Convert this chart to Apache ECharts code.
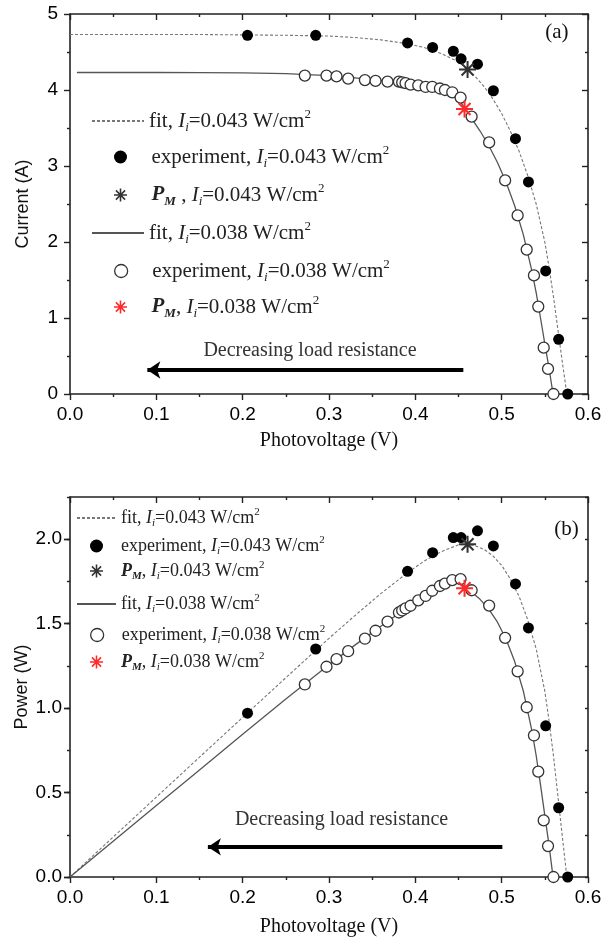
<!DOCTYPE html>
<html><head><meta charset="utf-8">
<script src="https://cdn.jsdelivr.net/npm/echarts@6/dist/echarts.min.js"></script>
<style>html,body{margin:0;padding:0;background:#fff}#c{width:611px;height:945px}</style>
</head><body><div id="c"></div>
<script>
// ---------------- data ----------------
// experiment, Ii = 0.043 W/cm2
const exp043V = [0.2056, 0.2846, 0.391, 0.420, 0.444, 0.453, 0.472, 0.4904, 0.516, 0.531, 0.551, 0.566, 0.5765];
const exp043I = [4.72, 4.72, 4.62, 4.56, 4.51, 4.41, 4.34, 3.99, 3.36, 2.79, 1.62, 0.72, 0.0];
const exp043P = [0.97, 1.35, 1.81, 1.92, 2.01, 2.01, 2.05, 1.96, 1.735, 1.475, 0.895, 0.41, 0.0];
// experiment, Ii = 0.038 W/cm2
const exp038V = [0.272, 0.2971, 0.3087, 0.3222, 0.3416, 0.3539, 0.3678, 0.381, 0.3848, 0.3887, 0.3945, 0.4034, 0.4119, 0.4196, 0.4285, 0.4343, 0.4428, 0.4524, 0.4652, 0.4855, 0.504, 0.5185, 0.529, 0.5374, 0.5424, 0.5487, 0.5537, 0.560];
const exp038I = [4.19, 4.19, 4.18, 4.15, 4.13, 4.12, 4.11, 4.11, 4.10, 4.09, 4.07, 4.06, 4.04, 4.04, 4.02, 4.00, 3.97, 3.90, 3.65, 3.31, 2.81, 2.35, 1.90, 1.56, 1.15, 0.61, 0.33, 0.0];
const exp038P = [1.14, 1.245, 1.29, 1.337, 1.411, 1.458, 1.512, 1.566, 1.578, 1.59, 1.606, 1.638, 1.664, 1.695, 1.723, 1.737, 1.758, 1.764, 1.698, 1.607, 1.416, 1.218, 1.005, 0.838, 0.624, 0.335, 0.183, 0.0];
// maximum power points
const pm043V = [0.4605], pm043I = [4.27], pm043P = [1.97];
const pm038V = [0.457],  pm038I = [3.75], pm038P = [1.71];
// fit curves, Ii = 0.043
const fit043V = [0, 0.05, 0.10, 0.15, 0.20, 0.25, 0.30, 0.33, 0.36, 0.39, 0.41, 0.43, 0.45, 0.46, 0.47, 0.48, 0.49, 0.50, 0.51, 0.52, 0.53, 0.54, 0.55, 0.555, 0.56, 0.565, 0.57, 0.5755];
const fit043I = [4.73, 4.73, 4.73, 4.73, 4.725, 4.72, 4.71, 4.69, 4.66, 4.61, 4.56, 4.48, 4.37, 4.28, 4.17, 4.04, 3.88, 3.69, 3.46, 3.20, 2.88, 2.50, 2.00, 1.66, 1.28, 0.86, 0.44, 0.0];
const fit043P = [0, 0.2365, 0.473, 0.7095, 0.945, 1.18, 1.413, 1.548, 1.678, 1.798, 1.870, 1.926, 1.967, 1.969, 1.960, 1.939, 1.901, 1.845, 1.765, 1.664, 1.526, 1.35, 1.10, 0.921, 0.717, 0.486, 0.251, 0.0];
// fit curves, Ii = 0.038
const fit038V = [0.008, 0.05, 0.10, 0.15, 0.20, 0.25, 0.30, 0.33, 0.36, 0.39, 0.41, 0.43, 0.44, 0.45, 0.4567, 0.465, 0.475, 0.485, 0.495, 0.505, 0.515, 0.525, 0.535, 0.54, 0.545, 0.55, 0.555, 0.5595];
const fit038I = [4.23, 4.23, 4.23, 4.228, 4.225, 4.215, 4.19, 4.16, 4.125, 4.085, 4.05, 4.00, 3.96, 3.88, 3.77, 3.63, 3.46, 3.27, 3.05, 2.79, 2.48, 2.10, 1.62, 1.33, 1.00, 0.66, 0.33, 0.0];
const fitP038V = [0, 0.05, 0.10, 0.15, 0.20, 0.25, 0.30, 0.33, 0.36, 0.39, 0.41, 0.43, 0.44, 0.45, 0.4567, 0.465, 0.475, 0.485, 0.495, 0.505, 0.515, 0.525, 0.535, 0.54, 0.545, 0.55, 0.555, 0.5595];
const fit038P = [0, 0.2115, 0.423, 0.634, 0.845, 1.054, 1.257, 1.373, 1.485, 1.593, 1.661, 1.72, 1.742, 1.746, 1.722, 1.688, 1.644, 1.586, 1.51, 1.409, 1.277, 1.103, 0.867, 0.718, 0.545, 0.363, 0.183, 0.0];
// annotations
const annotationText = 'Decreasing load resistance';
const arrowA = [[0.4556, 0.316], [0.0896, 0.316]];
const textA = [0.278, 0.57];
const arrowB = [[0.5008, 0.178], [0.1597, 0.178]];
const textB = [0.3145, 0.339];
const panelA = [0.564, 4.76], panelB = [0.575, 2.055];
const xLabel = 'Photovoltage (V)', yLabelA = 'Current (A)', yLabelB = 'Power (W)';
const powerLabelValues = [0, 0.5, 1.0, 1.5, 2.0];

// ---------------- styling ----------------
const SERIF = 'Liberation Serif', SANS = 'Liberation Sans';
const AX = '#222';
const STAR = 'path://M-1.2,-10L1.2,-10L1.2,10L-1.2,10Z M-10,-1.2L10,-1.2L10,1.2L-10,1.2Z M-6.2,-7.9L7.9,6.2L6.2,7.9L-7.9,-6.2Z M-7.9,6.2L6.2,-7.9L7.9,-6.2L-6.2,7.9Z';
const zip = (a, b) => a.map((v, i) => [v, b[i]]);

function xAxes(gi, nameGap) {
  const base = {
    type: 'value', gridIndex: gi, min: 0, max: 0.6, interval: 0.1,
    axisLine: { show: true, onZero: false, lineStyle: { color: AX, width: 1.6 } },
    axisTick: { show: true, length: 6, lineStyle: { color: AX, width: 1.4 } },
    minorTick: { show: true, splitNumber: 2, length: 3, lineStyle: { color: AX, width: 1.4 } },
    splitLine: { show: false }, minorSplitLine: { show: false }
  };
  return [
    Object.assign({}, base, {
      position: 'bottom', name: xLabel, nameLocation: 'middle', nameGap: nameGap, nameMoveOverlap: false,
      nameTextStyle: { fontFamily: SERIF, fontSize: 20, color: '#111' },
      axisLabel: { fontFamily: SANS, fontSize: 19, color: '#000', margin: 11, formatter: v => v.toFixed(1) }
    }),
    Object.assign({}, base, {
      position: 'top', axisLabel: { show: false },
      axisTick: { show: true, inside: true, length: 6, lineStyle: { color: AX, width: 1.4 } }
    })
  ];
}

const yA = {
  type: 'value', gridIndex: 0, min: 0, max: 5, interval: 1,
  axisLine: { show: true, onZero: false, lineStyle: { color: AX, width: 1.6 } },
  axisTick: { show: true, length: 6, lineStyle: { color: AX, width: 1.4 } },
  minorTick: { show: true, splitNumber: 2, length: 3, lineStyle: { color: AX, width: 1.4 } },
  splitLine: { show: false }, minorSplitLine: { show: false }
};
const yAxes = [
  Object.assign({}, yA, {
    position: 'left', name: yLabelA, nameLocation: 'middle', nameGap: 38, nameMoveOverlap: false,
    nameTextStyle: { fontFamily: SANS, fontSize: 18, color: '#111' },
    axisLabel: { fontFamily: SANS, fontSize: 19, color: '#000', margin: 12 }
  }),
  Object.assign({}, yA, {
    position: 'right', axisLabel: { show: false },
    axisTick: { show: true, inside: true, length: 6, lineStyle: { color: AX, width: 1.4 } }
  })
];
const yB = {
  type: 'value', gridIndex: 1, min: 0, max: 2.25, interval: 0.25,
  axisLine: { show: true, onZero: false, lineStyle: { color: AX, width: 1.6 } },
  splitLine: { show: false }
};
yAxes.push(
  Object.assign({}, yB, {
    position: 'left', name: yLabelB, nameLocation: 'middle', nameGap: 39, nameMoveOverlap: false,
    nameTextStyle: { fontFamily: SANS, fontSize: 18, color: '#111' },
    axisTick: { show: true, length: 3, lineStyle: { color: AX, width: 1.4 } },
    axisLabel: { fontFamily: SANS, fontSize: 19, color: '#000', margin: 8,
      formatter: v => (powerLabelValues.some(p => Math.abs(p - v) < 1e-6) ? v.toFixed(1) : '') }
  }),
  Object.assign({}, yB, {
    position: 'right', axisLabel: { show: false },
    axisTick: { show: true, inside: true, length: 3, lineStyle: { color: AX, width: 1.4 } }
  }),
  Object.assign({}, yB, {
    position: 'left', axisLine: { show: false }, axisLabel: { show: false },
    axisTick: { show: true, length: 6, customValues: powerLabelValues, lineStyle: { color: AX, width: 1.4 } }
  }),
  Object.assign({}, yB, {
    position: 'right', axisLine: { show: false }, axisLabel: { show: false },
    axisTick: { show: true, inside: true, length: 6, customValues: powerLabelValues, lineStyle: { color: AX, width: 1.4 } }
  })
);

function fitSeries(name, xi, yi, data, dashed, extra) {
  const col = dashed ? '#777' : '#555';
  return Object.assign({
    type: 'line', name, xAxisIndex: xi, yAxisIndex: yi, data,
    symbol: 'none', showSymbol: false, smooth: false, silent: true, z: 2,
    itemStyle: { color: col },
    lineStyle: { color: col, width: dashed ? 1.1 : 1.3, type: dashed ? [3, 2] : 'solid' }
  }, extra || {});
}
function expSeries(name, xi, yi, data, filled) {
  return {
    type: 'scatter', name, xAxisIndex: xi, yAxisIndex: yi, data, symbol: 'circle', symbolSize: 11, silent: true, z: 4,
    itemStyle: filled ? { color: '#000', opacity: 1 } : { color: '#fff', borderColor: '#333', borderWidth: 1.3, opacity: 1 }
  };
}
function starSeries(name, xi, yi, data, color) {
  return {
    type: 'scatter', name, xAxisIndex: xi, yAxisIndex: yi, data, symbol: STAR, symbolSize: 17, silent: true, z: 6,
    itemStyle: { color, opacity: 1 }
  };
}
function annot(arrow, text, panel, panelText) {
  return {
    markLine: {
      silent: true, symbol: ['none', 'arrow'], symbolSize: 13, animation: false,
      label: { show: false },
      lineStyle: { color: '#000', width: 4, type: 'solid' },
      data: [[{ coord: arrow[0] }, { coord: arrow[1] }]]
    },
    markPoint: {
      silent: true, animation: false,
      data: [
        { coord: text, symbol: 'rect', symbolSize: 1, itemStyle: { color: 'rgba(0,0,0,0)' },
          label: { show: true, position: 'inside', formatter: annotationText, fontFamily: SERIF, fontSize: 20, color: '#333' } },
        { coord: panel, symbol: 'rect', symbolSize: 1, itemStyle: { color: 'rgba(0,0,0,0)' },
          label: { show: true, position: 'inside', formatter: panelText, fontFamily: SERIF, fontSize: 21, color: '#111' } }
      ]
    }
  };
}

const series = [
  fitSeries('a-fit043', 0, 0, zip(fit043V, fit043I), true, annot(arrowA, textA, panelA, '(a)')),
  expSeries('a-exp043', 0, 0, zip(exp043V, exp043I), true),
  starSeries('a-pm043', 0, 0, zip(pm043V, pm043I), '#333'),
  fitSeries('a-fit038', 0, 0, zip(fit038V, fit038I), false),
  expSeries('a-exp038', 0, 0, zip(exp038V, exp038I), false),
  starSeries('a-pm038', 0, 0, zip(pm038V, pm038I), '#ff2a2a'),
  fitSeries('b-fit043', 2, 2, zip(fit043V, fit043P), true, annot(arrowB, textB, panelB, '(b)')),
  expSeries('b-exp043', 2, 2, zip(exp043V, exp043P), true),
  starSeries('b-pm043', 2, 2, zip(pm043V, pm043P), '#333'),
  fitSeries('b-fit038', 2, 2, zip(fitP038V, fit038P), false),
  expSeries('b-exp038', 2, 2, zip(exp038V, exp038P), false),
  starSeries('b-pm038', 2, 2, zip(pm038V, pm038P), '#ff2a2a')
];

// ---------------- legends ----------------
const legendText = {
  fit043: 'fit, {it|I}{sub|i}=0.043 W/cm{sup|2}',
  exp043: 'experiment, {it|I}{sub|i}=0.043 W/cm{sup|2}',
  pm043a: '{pb|P}{pbs|M} , {it|I}{sub|i}=0.043 W/cm{sup|2}',
  pm043b: '{pb|P}{pbs|M}, {it|I}{sub|i}=0.043 W/cm{sup|2}',
  fit038: 'fit, {it|I}{sub|i}=0.038 W/cm{sup|2}',
  exp038: 'experiment, {it|I}{sub|i}=0.038 W/cm{sup|2}',
  pm038: '{pb|P}{pbs|M}, {it|I}{sub|i}=0.038 W/cm{sup|2}'
};
function rich(fs, lh) {
  const small = Math.round(fs * 0.6);
  return {
    it: { fontFamily: SERIF, fontStyle: 'italic', fontSize: fs, color: '#222', lineHeight: lh },
    sub: { fontFamily: SERIF, fontStyle: 'italic', fontSize: small, color: '#222', verticalAlign: 'bottom', lineHeight: small },
    sup: { fontFamily: SERIF, fontSize: small, color: '#222', verticalAlign: 'top', lineHeight: small },
    pb: { fontFamily: SERIF, fontStyle: 'italic', fontWeight: 'bold', fontSize: fs, color: '#222', lineHeight: lh },
    pbs: { fontFamily: SERIF, fontStyle: 'italic', fontWeight: 'bold', fontSize: small, color: '#222', verticalAlign: 'bottom', lineHeight: small }
  };
}
// [series name, text key, row centre y, kind]
const legendA = [
  ['a-fit043', 'fit043', 121, 'line'], ['a-exp043', 'exp043', 157, 'mark'], ['a-pm043', 'pm043a', 195, 'mark'],
  ['a-fit038', 'fit038', 233, 'line'], ['a-exp038', 'exp038', 271, 'open'], ['a-pm038', 'pm038', 307, 'mark']
];
const legendB = [
  ['b-fit043', 'fit043', 518, 'line'], ['b-exp043', 'exp043', 546, 'mark'], ['b-pm043', 'pm043b', 571, 'mark'],
  ['b-fit038', 'fit038', 604, 'line'], ['b-exp038', 'exp038', 635, 'open'], ['b-pm038', 'pm038', 662, 'mark']
];
const legends = [];
function addLegends(rows, lineLeft, markLeft, iw, fs, lh) {
  rows.forEach(([name, key, y, kind]) => {
    const lg = {
      data: [name], left: kind === 'line' ? lineLeft : markLeft, top: y - lh / 2, padding: 0, itemGap: 0, selectedMode: false,
      itemWidth: iw, itemHeight: 13,
      textStyle: { fontFamily: SERIF, fontSize: fs, color: '#222', lineHeight: lh, rich: rich(fs, lh) },
      formatter: () => legendText[key]
    };
    if (kind === 'open') lg.itemStyle = { color: '#fff', borderColor: '#333', borderWidth: 1.3 };
    if (kind === 'line') lg.itemStyle = { color: 'rgba(0,0,0,0)', borderWidth: 0, opacity: 0 };
    legends.push(lg);
  });
}
addLegends(legendA, 91, 114, 52, 21, 26);
addLegends(legendB, 76, 90, 39, 18, 22);

const chart = echarts.init(document.getElementById('c'), null, { renderer: 'canvas' });
chart.setOption({
  animation: false,
  backgroundColor: '#fff',
  grid: [
    { left: 70, top: 14, width: 518, height: 380, outerBoundsMode: 'none', containLabel: false },
    { left: 70, top: 497, width: 518, height: 380, outerBoundsMode: 'none', containLabel: false }
  ],
  xAxis: [...xAxes(0, 37), ...xAxes(1, 40)],
  yAxis: yAxes,
  legend: legends,
  series: series
});
</script></body></html>
